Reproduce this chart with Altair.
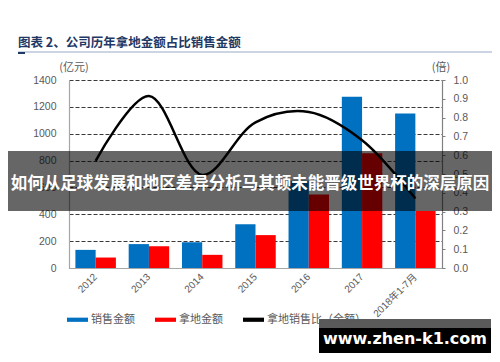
import altair as alt
import pandas as pd

years = ["2012", "2013", "2014", "2015", "2016", "2017", "2018年1-7月"]
sales = [135, 178, 192, 326, 650, 1275, 1150]
land = [78, 162, 98, 245, 548, 855, 425]
ratio = [0.57, 0.915, 0.495, 0.775, 0.83, 0.68, 0.37]
series_names = ["销售金额", "拿地金额", "拿地销售比（全额）"]
series_colors = ["#0070c0", "#ff0000", "#000000"]
left_ticks = [0, 200, 400, 600, 800, 1000, 1200, 1400]
right_ticks = [0.0, 0.1, 0.2, 0.3, 0.4, 0.5, 0.6, 0.7, 0.8, 0.9, 1.0]
title_text = "图表 2、公司历年拿地金额占比销售金额"
left_unit = "(亿元)"
right_unit = "(倍)"
banner_text = "如何从足球发展和地区差异分析马其顿未能晋级世界杯的深层原因"
watermark_text = "www.zhen-k1.com"

FONT = "Liberation Sans, Noto Sans CJK SC"
CJK = "Noto Sans CJK SC"
GRAY = "#595959"

bars_df = pd.DataFrame({
    "year": years * 2,
    "series": [series_names[0]] * len(years) + [series_names[1]] * len(years),
    "value": sales + land,
})
line_df = pd.DataFrame({"year": years, "series": series_names[2], "ratio": ratio})
one = pd.DataFrame({"k": [0]})

x_enc = alt.X(
    "year:N", sort=years,
    scale=alt.Scale(paddingInner=0.24, paddingOuter=0.12),
    axis=alt.Axis(title=None, labelAngle=-45, labelAlign="right", labelBaseline="middle",
                  labelPadding=7, labelFontSize=10, labelColor=GRAY, labelFont=FONT,
                  ticks=False, domainColor="#a6a6a6", domainWidth=1.2),
)

color_enc = alt.Color(
    "series:N",
    scale=alt.Scale(domain=series_names, range=series_colors),
    legend=alt.Legend(title=None, orient="none", legendX=-2, legendY=229, direction="horizontal",
                      symbolType="M-1,-0.2L1,-0.2L1,0.2L-1,0.2Z", symbolSize=441,
                      symbolStrokeWidth=0, labelFontSize=11, labelColor=GRAY, labelFont=CJK,
                      columnPadding=20, labelOffset=3, padding=0),
)

bars = alt.Chart(bars_df).mark_bar().encode(
    x=x_enc,
    xOffset=alt.XOffset("series:N", scale=alt.Scale(domain=series_names[:2], paddingInner=0, paddingOuter=0)),
    y=alt.Y("value:Q", scale=alt.Scale(domain=[0, 1400], nice=False),
            axis=alt.Axis(title=None, values=left_ticks, format="d", grid=True, gridDash=[4, 2],
                          gridColor="#3a3a3a", gridWidth=1.1, ticks=False, labelPadding=13,
                          labelFontSize=10.5, labelColor=GRAY, labelFont=FONT,
                          domainColor="#a6a6a6", domainWidth=1.2)),
    color=color_enc,
)

line = alt.Chart(line_df).mark_line(interpolate="catmull-rom", strokeWidth=2.5).encode(
    x=alt.X("year:N", sort=years),
    y=alt.Y("ratio:Q", scale=alt.Scale(domain=[0, 1], nice=False),
            axis=alt.Axis(title=None, orient="right", values=right_ticks, format=".1f", grid=False,
                          tickSize=3, tickColor="#808080", labelPadding=8, labelFontSize=10.5,
                          labelColor=GRAY, labelFont=FONT, domainColor="#808080", domainWidth=1.2)),
    color=alt.Color("series:N"),
)

title = alt.Chart(one).mark_text(align="left", baseline="middle", fontSize=12.5, fontWeight="bold",
                                 color="#1f3864", font=CJK).encode(
    x=alt.value(-51), y=alt.value(-37), text=alt.value(title_text))
title_rule = alt.Chart(one).mark_rule(color="#b8c6d8", strokeWidth=1.5).encode(
    x=alt.value(-51), x2=alt.value(431), y=alt.value(-28))
title_rule2 = alt.Chart(one).mark_rule(color="#1f3864", strokeWidth=2).encode(
    x=alt.value(-51), x2=alt.value(-44), y=alt.value(-27))
unit_l = alt.Chart(one).mark_text(fontSize=11, color=GRAY, font=CJK).encode(
    x=alt.value(5), y=alt.value(-12), text=alt.value(left_unit))
unit_r = alt.Chart(one).mark_text(fontSize=11, color=GRAY, font=CJK).encode(
    x=alt.value(372), y=alt.value(-12), text=alt.value(right_unit))

banner = alt.Chart(one).mark_rect(color="#000000", opacity=0.6).encode(
    x=alt.value(-66), x2=alt.value(428), y=alt.value(71), y2=alt.value(131))
banner_t = alt.Chart(one).mark_text(fontSize=16.5, fontWeight="bold", color="white", font=CJK,
                                    baseline="middle").encode(
    x=alt.value(181), y=alt.value(104), text=alt.value(banner_text))

wm_top = alt.Chart(one).mark_rect(color="#5a5a5a").encode(
    x=alt.value(250), x2=alt.value(422), y=alt.value(239), y2=alt.value(248))
wm = alt.Chart(one).mark_rect(color="#000000").encode(
    x=alt.value(250), x2=alt.value(422), y=alt.value(248), y2=alt.value(273))
wm_t = alt.Chart(one).mark_text(fontSize=16, fontWeight="bold", color="white", font="DejaVu Sans",
                                baseline="middle").encode(
    x=alt.value(336), y=alt.value(259), text=alt.value(watermark_text))

chart = alt.layer(
    bars, line, title, title_rule, title_rule2, unit_l, unit_r, banner, banner_t, wm_top, wm, wm_t
).resolve_scale(y="independent").properties(
    width=373, height=188,
    autosize=alt.AutoSizeParams(type="none"),
    padding={"left": 61, "top": 72, "right": 50, "bottom": 86},
    background="white",
).configure_view(stroke=None)

chart.save("out.html", embed_options={"renderer": "svg", "actions": False})
